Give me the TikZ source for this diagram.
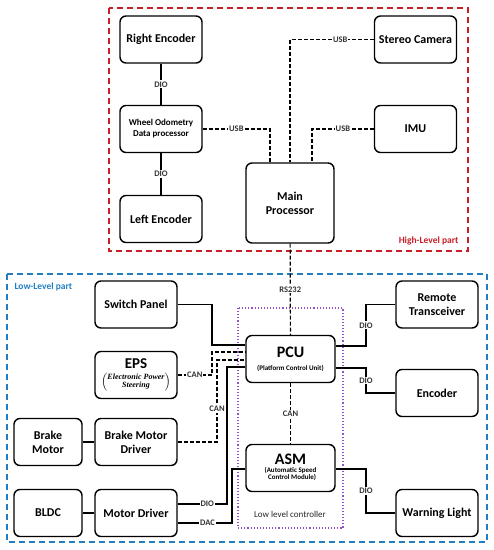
\documentclass[tikz,border=0pt]{standalone}
\usepackage{fontspec}
\setmainfont{Carlito}
\newfontfamily\epsfont{Liberation Serif}
\usepackage{tikz}
\usetikzlibrary{arrows.meta,positioning,calc}

\definecolor{hlred}{RGB}{200,30,40}
\definecolor{llblue}{RGB}{35,125,195}
\definecolor{llcpurple}{RGB}{150,80,200}

\tikzset{
  blk/.style={draw,line width=1.4pt,rounded corners=6pt,minimum width=82pt,minimum height=47pt,
    align=center,font=\fontsize{12}{14}\selectfont\bfseries},
  smallblk/.style={blk,minimum width=68pt},
  link/.style={line width=1.2pt},
  canlink/.style={link,dash pattern=on 4pt off 2pt},
  lbl/.style={fill=white,inner sep=1pt,font=\fontsize{8.5}{9}\selectfont\bfseries,text=black!80},
}
\newcommand\subtxt{\fontsize{7}{8}\selectfont}

\begin{document}
\begin{tikzpicture}[x=1pt,y=-1pt,>=Latex]
  \useasboundingbox (0,0) rectangle (494,550);

  % -- REGIONS -------------------------------------------------------
  \draw[hlred,line width=1.4pt,dash pattern=on 6pt off 4pt] (109,8) rectangle (468,251);
  \node[hlred,anchor=east,font=\fontsize{9.5}{11}\selectfont\bfseries] at (462,241) {High-Level part};
  \draw[llblue,line width=1.4pt,dash pattern=on 6pt off 4pt] (7,274) rectangle (487,542);
  \node[llblue,anchor=west,font=\fontsize{9.5}{11}\selectfont\bfseries] at (11,287) {Low-Level part};
  \draw[llcpurple,line width=1.1pt,dotted] (238,308) rectangle (343,528);
  \node[font=\fontsize{9}{10}\selectfont,text=black!85] at (290,514) {Low level controller};

  % -- HIGH-LEVEL BLOCKS --------------------------------------------
  \node[blk] (renc) at (161,39.5) {Right Encoder};
  \node[blk,font=\fontsize{9}{11}\selectfont\bfseries] (wodo) at (161,129) {Wheel Odometry\\Data processor};
  \node[blk] (lenc) at (161,219) {Left Encoder};
  \node[blk,minimum width=88pt,minimum height=80pt] (mainp) at (290,203) {Main\\Processor};
  \node[blk] (scam) at (415.5,39.5) {Stereo Camera};
  \node[blk] (imu) at (415.5,129) {IMU};

  % -- LOW-LEVEL BLOCKS ---------------------------------------------
  \node[blk] (spanel) at (136,304.5) {Switch Panel};
  \node[blk,minimum width=89pt] (pcu) at (290.5,359)
    {{\fontsize{16}{17}\selectfont PCU}\\[-1pt]{\subtxt (Platform Control Unit)}};
  \node[blk] (rtx) at (437,304.5) {Remote\\Transceiver};
  \node[blk] (eps) at (136,375)
    {{\fontsize{15}{16}\selectfont EPS}\\[1pt]
     {\fontsize{8}{9}\selectfont$\left(\vcenter{\hbox{\epsfont\bfseries\itshape
      \begin{tabular}{@{}c@{}}Electronic Power\\[-1pt]Steering\end{tabular}}}\right)$}};
  \node[blk] (enc) at (437,393) {Encoder};
  \node[smallblk] (bmot) at (48,442) {Brake\\Motor};
  \node[blk] (bmd) at (136,442) {Brake Motor\\Driver};
  \node[blk,minimum width=89pt] (asm) at (290.5,468)
    {{\fontsize{16}{17}\selectfont ASM}\\[-2pt]
     {\subtxt\begin{tabular}{@{}c@{}}(Automatic Speed\\[-1pt]\ \ Control Module)\end{tabular}}};
  \node[smallblk] (bldc) at (48,513) {BLDC};
  \node[blk] (mdrv) at (136,513) {Motor Driver};
  \node[blk] (wlight) at (437,513) {Warning Light};

  % -- HIGH-LEVEL LINKS ---------------------------------------------
  \draw[link] (renc) -- node[lbl]{DIO} (wodo);
  \draw[link] (wodo) -- node[lbl]{DIO} (lenc);
  \draw[canlink] (wodo.east) -| node[lbl,pos=0.25]{USB} ([xshift=-20pt]mainp.north);
  \draw[canlink] (scam.west) -| node[lbl,pos=0.2]{USB} (mainp.north);
  \draw[canlink] (imu.west) -| node[lbl,pos=0.25]{USB} ([xshift=22pt]mainp.north);
  \draw[canlink] (mainp) -- node[lbl]{RS232} (pcu);

  % -- LOW-LEVEL LINKS ----------------------------------------------
  \draw[link] (spanel.east) -| (212,345) -- (pcu.west |- 0,345);
  \draw[canlink] (eps.east) -| node[lbl,pos=0.25]{CAN} (212,352) -- (pcu.west |- 0,352);
  \draw[canlink] (bmd.east) -| node[lbl,pos=0.7]{CAN} (217,360) -- (pcu.west |- 0,360);
  \draw[link] (mdrv.east |- 0,504) -- node[lbl,pos=0.6]{DIO} (227,504) |- (pcu.west |- 0,367);
  \draw[link] (mdrv.east |- 0,523) -- node[lbl,pos=0.55]{DAC} (232,523) |- (asm.west |- 0,469);
  \draw[canlink] (pcu) -- node[lbl]{CAN} (asm);

  \draw[link] (pcu.east |- 0,346) -- (366,346) |- node[lbl,pos=0.25]{DIO} (rtx.west);
  \draw[link] (pcu.east |- 0,368) -- (366,368) |- node[lbl,pos=0.25]{DIO} (enc.west);
  \draw[link] (asm.east |- 0,469) -- (366,469) |- node[lbl,pos=0.25]{DIO} (wlight.west);

  \draw[line width=2pt] (bmot) -- (bmd);
  \draw[line width=2pt] (bldc) -- (mdrv);

\end{tikzpicture}
\end{document}
